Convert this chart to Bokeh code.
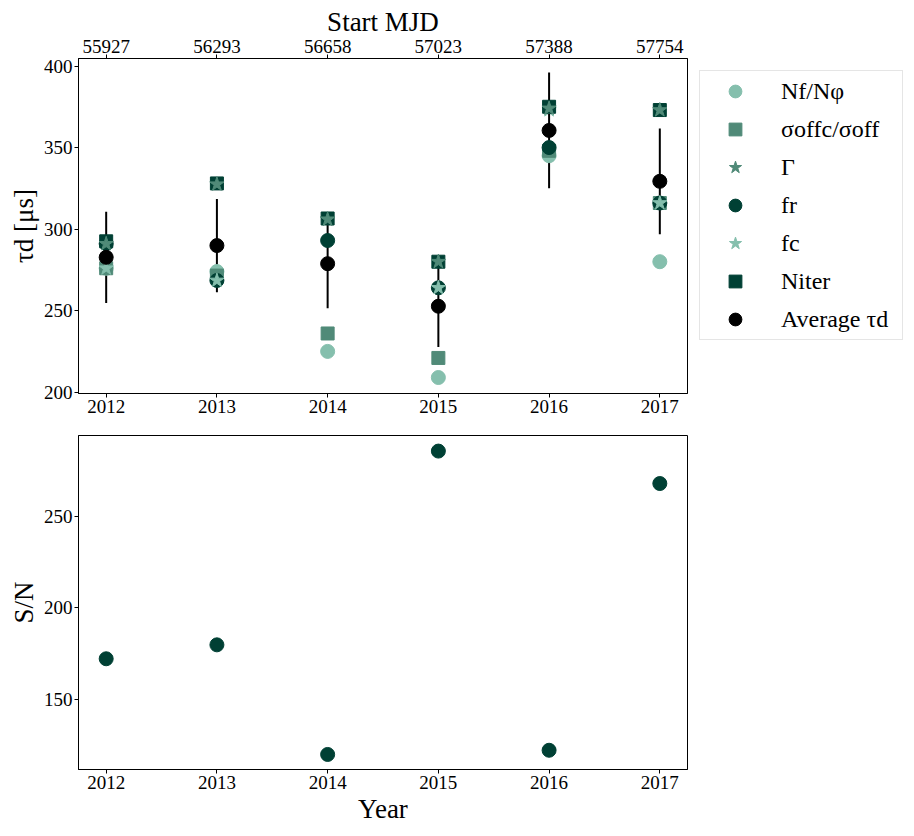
from bokeh.plotting import figure
from bokeh.models import Range1d, FixedTicker, LinearAxis, Legend, LegendItem, ColumnDataSource
from bokeh.layouts import column
from bokeh.embed import file_html
from bokeh.resources import INLINE

# ---- data ----
years = [2012, 2013, 2014, 2015, 2016, 2017]
mjd_labels = ["55927", "56293", "56658", "57023", "57388", "57754"]
tau_nf = [276, 274, 225, 209, 345, 280]
tau_sigma = [276, 271.5, 236, 221, 348, 316]
tau_gamma = [291, 327.5, 306, 280, 374, 373]
tau_fr = [291, 268.5, 293, 264, 350, 316]
tau_fc = [276, 268.5, 306, 264, 373, 316]
tau_niter = [292.5, 328, 306.5, 280, 375, 373]
tau_avg = [282.7, 289.9, 278.8, 252.7, 360.5, 329.3]
tau_err = [28, 28.6, 27.3, 25, 35.5, 32.4]
snr = [172.2, 179.8, 120, 285.5, 122.3, 267.8]

LIGHT = "#85bfad"
MID = "#508a78"
DARK = "#004034"
FONT = "Liberation Serif"


def style(p):
    p.outline_line_color = "black"
    p.outline_line_width = 1
    p.outline_line_alpha = 1
    p.grid.visible = False
    p.background_fill_color = "white"
    p.border_fill_color = "white"
    for ax in p.axis:
        ax.major_label_text_font = FONT
        ax.major_label_text_font_size = "19px"
        ax.major_label_text_color = "black"
        ax.axis_label_text_font = FONT
        ax.axis_label_text_font_size = "27px"
        ax.axis_label_text_font_style = "normal"
        ax.axis_label_text_color = "black"
        ax.axis_line_color = "black"
        ax.major_tick_line_color = "black"
        ax.major_tick_in = 0
        ax.major_tick_out = 4
        ax.minor_tick_line_color = None
        ax.major_label_standoff = 2
        ax.axis_label_standoff = 2


src = ColumnDataSource(dict(
    year=years, nf=tau_nf, sigma=tau_sigma, gamma=tau_gamma, fr=tau_fr,
    fc=tau_fc, niter=tau_niter, avg=tau_avg,
    lo=[a - e for a, e in zip(tau_avg, tau_err)],
    hi=[a + e for a, e in zip(tau_avg, tau_err)],
    snr=snr,
))

# ---- top panel ----
p1 = figure(frame_width=609, frame_height=335, output_backend="svg",
            toolbar_location=None, x_range=Range1d(2011.75, 2017.25),
            y_range=Range1d(199.2, 404.6),
            min_border_left=78, min_border_top=58, min_border_bottom=27,
            min_border_right=218)
p1.xaxis.ticker = FixedTicker(ticks=years)
p1.yaxis.ticker = FixedTicker(ticks=[200, 250, 300, 350, 400])
p1.yaxis.axis_label = "τd [μs]"
top_ax = LinearAxis(axis_label="Start MJD", ticker=FixedTicker(ticks=years),
                    major_label_overrides={y: m for y, m in zip(years, mjd_labels)})
p1.add_layout(top_ax, "above")
style(p1)
top_ax.axis_label_standoff = 0

p1.segment(x0="year", y0="lo", x1="year", y1="hi", source=src,
           line_color="black", line_width=2)
r_nf = p1.scatter("year", "nf", source=src, marker="circle", size=14,
                  fill_color=LIGHT, line_color=LIGHT)
r_sigma = p1.scatter("year", "sigma", source=src, marker="square", size=13,
                     fill_color=MID, line_color=MID)
r_fr = p1.scatter("year", "fr", source=src, marker="circle", size=14,
                  fill_color=DARK, line_color=DARK)
r_fc = p1.scatter("year", "fc", source=src, marker="star", size=15,
                  fill_color=LIGHT, line_color=LIGHT)
r_niter = p1.scatter("year", "niter", source=src, marker="square", size=13,
                     fill_color=DARK, line_color=DARK)
r_gamma = p1.scatter("year", "gamma", source=src, marker="star", size=15,
                     fill_color=MID, line_color=MID)
r_avg = p1.scatter("year", "avg", source=src, marker="circle", size=14,
                   fill_color="black", line_color="black")

legend = Legend(items=[
    LegendItem(label="Nf/Nφ", renderers=[r_nf]),
    LegendItem(label="σoffc/σoff", renderers=[r_sigma]),
    LegendItem(label="Γ", renderers=[r_gamma]),
    LegendItem(label="fr", renderers=[r_fr]),
    LegendItem(label="fc", renderers=[r_fc]),
    LegendItem(label="Niter", renderers=[r_niter]),
    LegendItem(label="Average τd", renderers=[r_avg]),
], location="top_left", margin=12, padding=4, spacing=6,
    glyph_width=62, glyph_height=32, label_height=32, label_standoff=15,
    label_width=117, label_text_font=FONT, label_text_font_size="24px",
    label_text_color="black", border_line_color="#cccccc",
    border_line_width=1, background_fill_color="white", background_fill_alpha=1)
p1.add_layout(legend, "right")

# ---- bottom panel ----
p2 = figure(frame_width=609, frame_height=334, output_backend="svg",
            toolbar_location=None, x_range=Range1d(2011.75, 2017.25),
            y_range=Range1d(111.8, 294.0),
            min_border_left=78, min_border_top=15, min_border_bottom=55,
            min_border_right=10)
p2.xaxis.ticker = FixedTicker(ticks=years)
p2.yaxis.ticker = FixedTicker(ticks=[150, 200, 250])
p2.xaxis.axis_label = "Year"
p2.yaxis.axis_label = "S/N"
style(p2)
p2.scatter("year", "snr", source=src, marker="circle", size=14,
           fill_color=DARK, line_color=DARK)

layout = column(p1, p2, spacing=0)
open("out.html", "w").write(file_html(layout, INLINE))
